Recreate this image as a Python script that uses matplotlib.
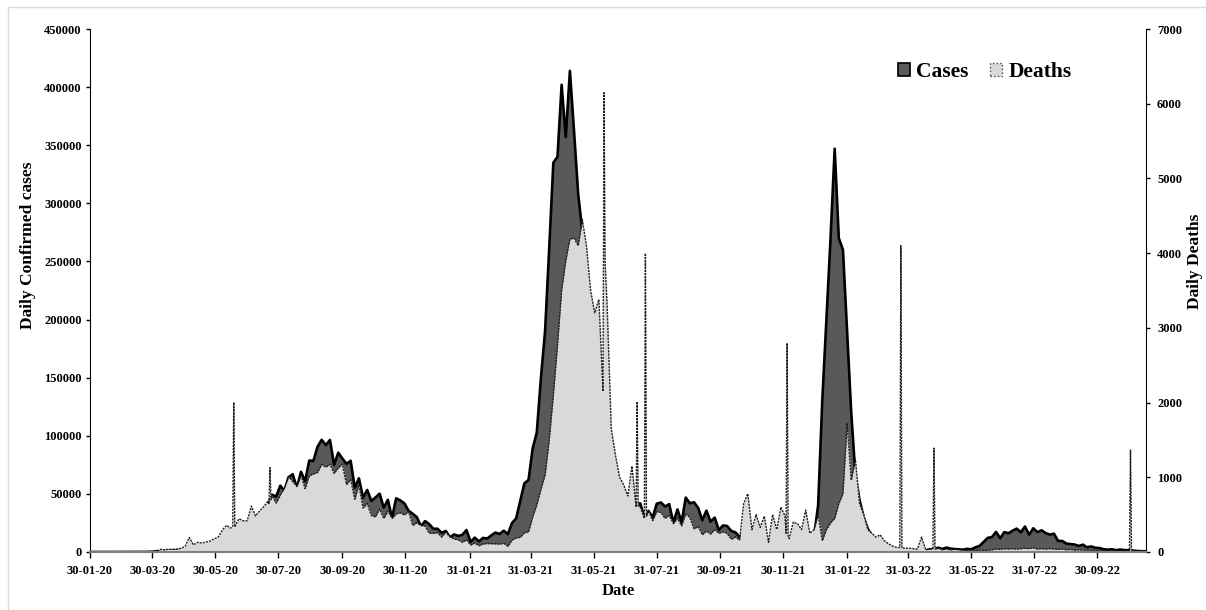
import matplotlib
matplotlib.use('Agg')
import matplotlib.pyplot as plt
import matplotlib.patches as mpatches
from matplotlib.ticker import StrMethodFormatter
import pandas as pd

# valeurs, un point tous les 4 jours a partir du 30-01-20
start = '2020-01-30'
cases = [0, 0, 0, 0, 0, 0, 0, 0,
         1, 3, 15, 20, 25, 90, 80, 230,
         600, 570, 850, 1000, 1300, 1600, 1500, 2300,
         3600, 3300, 3700, 5000, 5600, 6500, 7900, 8200,
         9900, 9900, 11500, 13600, 14800, 18500, 18600, 22800,
         24900, 28600, 35000, 40400, 49300, 47700, 57100, 52500,
         64400, 66900, 55000, 69000, 60900, 78700, 78400, 90600,
         96500, 92000, 96400, 75000, 85400, 80500, 75800, 78500,
         55300, 63400, 46800, 53400, 43900, 46900, 50200, 38100,
         44900, 29200, 46200, 44400, 41800, 35500, 32900, 30000,
         22000, 26600, 23900, 20000, 20000, 16500, 18100, 12600,
         15100, 13800, 14800, 18900, 8600, 12400, 9100, 12100,
         11600, 14300, 16700, 15500, 18300, 15400, 24900, 28900,
         43800, 59100, 62000, 89100, 103000, 150000, 190000, 261500,
         335000, 340000, 402000, 357000, 414000, 362000, 308000, 276000,
         222300, 186400, 127500, 120500, 94000, 80800, 62500, 53300,
         51700, 37600, 44100, 43700, 41500, 41800, 30100, 35300,
         29700, 41600, 42600, 39100, 41200, 25200, 36600, 25500,
         46800, 41900, 42800, 38000, 27300, 35600, 26100, 29600,
         18900, 22800, 22400, 18100, 16900, 13100, 16300, 16200,
         12800, 12900, 11500, 12500, 8900, 10300, 9300, 8800,
         9800, 8300, 8500, 5800, 7100, 6300, 6900, 13100,
         40000, 130000, 200000, 270000, 347000, 270000, 260000, 190000,
         120000, 67000, 45000, 30000, 20000, 14100, 6900, 6400,
         3990, 3600, 2900, 1700, 1900, 1300, 1100, 900,
         1100, 1100, 1150, 2400, 2500, 3700, 2600, 3800,
         2900, 2500, 2300, 2000, 2700, 2300, 4000, 5200,
         8600, 12200, 12800, 17300, 11800, 17100, 16100, 18300,
         20100, 16900, 21900, 14800, 20400, 17100, 18700, 16300,
         14900, 15800, 9500, 9500, 7200, 6800, 6400, 5200,
         6300, 4000, 4800, 3600, 3400, 2400, 2000, 2400,
         1500, 2100, 1600, 1600, 1200, 900, 700, 550]

deaths = [0, 0, 0, 0, 0, 0, 0, 0,
          0, 0, 0, 1, 1, 3, 5, 7,
          12, 35, 30, 38, 36, 40, 50, 77,
          195, 95, 130, 120, 132, 146, 175, 200,
          294, 357, 320, 336, 445, 418, 418, 613,
          482, 550, 606, 681, 757, 654, 764, 857,
          1007, 942, 876, 1023, 848, 1021, 1045, 1065,
          1172, 1136, 1174, 1053, 1124, 1179, 903, 971,
          706, 895, 587, 650, 488, 470, 577, 448,
          547, 449, 511, 524, 496, 540, 355, 391,
          354, 347, 251, 251, 257, 201, 264, 202,
          175, 163, 131, 163, 94, 120, 84, 108,
          113, 112, 110, 106, 117, 77, 158, 188,
          197, 257, 271, 469, 630, 840, 1030, 1500,
          2100, 2770, 3500, 3900, 4190, 4200, 4100, 4450,
          4100, 3500, 3200, 3380, 2150, 3300, 1650, 1300,
          1000, 900, 750, 1150, 600, 600, 450, 550,
          420, 540, 530, 450, 490, 380, 450, 350,
          510, 460, 310, 340, 230, 280, 240, 300,
          250, 270, 250, 170, 200, 160, 650, 780,
          300, 500, 330, 480, 130, 500, 300, 600,
          480, 180, 400, 380, 300, 560, 250, 300,
          500, 150, 300, 390, 450, 650, 780, 1720,
          960, 1240, 650, 500, 300, 250, 200, 230,
          150, 110, 80, 60, 60, 50, 50, 45,
          40, 200, 30, 40, 50, 50, 30, 40,
          30, 35, 30, 25, 20, 25, 20, 25,
          20, 25, 30, 40, 35, 45, 40, 45,
          40, 45, 50, 45, 55, 40, 45, 40,
          45, 40, 35, 40, 30, 35, 25, 30,
          25, 25, 20, 20, 15, 15, 10, 15,
          10, 15, 10, 10, 10, 10, 8, 8]

# pics journaliers des deces (avec les jours voisins)
spike_dates = ['2020-06-16', '2020-06-17', '2020-06-18',
               '2020-07-21', '2020-07-22', '2020-07-23',
               '2021-06-10', '2021-06-11',
               '2021-07-12', '2021-07-13',
               '2021-07-20', '2021-07-21',
               '2021-12-03', '2021-12-04', '2021-12-05',
               '2022-03-23', '2022-03-24', '2022-03-25',
               '2022-04-24', '2022-04-25', '2022-04-26',
               '2022-10-31', '2022-11-01', '2022-11-02']
spike_deaths = [340, 2003, 336,
                640, 1129, 700,
                6148, 3900,
                2012, 620,
                3998, 480,
                250, 2796, 200,
                60, 4100, 55,
                45, 1390, 40,
                10, 1365, 10]

tick_labels = ['30-01-20', '30-03-20', '30-05-20', '30-07-20', '30-09-20', '30-11-20',
               '31-01-21', '31-03-21', '31-05-21', '31-07-21', '30-09-21', '30-11-21',
               '31-01-22', '31-03-22', '31-05-22', '31-07-22', '30-09-22']
legend_labels = ['Cases', 'Deaths']

plt.rcParams['font.family'] = 'Liberation Serif'
plt.rcParams['font.weight'] = 'bold'

dates = pd.date_range(start, periods=len(cases), freq='4D')
death_series = pd.Series(spike_deaths, index=pd.to_datetime(spike_dates)).combine_first(
    pd.Series(deaths, index=dates)).sort_index()
tick_dates = pd.to_datetime(tick_labels, format='%d-%m-%y')

fig = plt.figure(figsize=(12.06, 6.10), dpi=100)
ax = fig.add_axes([90 / 1206, 58 / 610, 1056 / 1206, 523 / 610])
ax2 = ax.twinx()

# cas (axe gauche)
ax.fill_between(dates, cases, color='#595959', lw=0)
ax.plot(dates, cases, color='black', lw=1.9)
# deces (axe droit), par dessus
ax2.fill_between(death_series.index, death_series.values, color='#d9d9d9', lw=0)
ax2.plot(death_series.index, death_series.values, color='#1e1e1e', lw=1.0, ls=(0, (1.5, 0.8)))

ax.set_xlim(pd.Timestamp('2020-01-30'), pd.Timestamp('2022-11-16'))
ax.set_ylim(0, 450000)
ax2.set_ylim(0, 7000)
ax.set_yticks(range(0, 450001, 50000))
ax2.set_yticks(range(0, 7001, 1000))
ax.yaxis.set_major_formatter(StrMethodFormatter('{x:.0f}'))
ax2.yaxis.set_major_formatter(StrMethodFormatter('{x:.0f}'))
ax.set_xticks(tick_dates)
ax.set_xticklabels(tick_labels)

ax.tick_params(axis='y', direction='out', length=3, width=1, labelsize=9, pad=3)
ax2.tick_params(axis='y', direction='out', length=3, width=1, labelsize=9, pad=5)
ax.tick_params(axis='x', direction='out', length=4, width=1, labelsize=9, pad=5)

for s in ['top', 'right', 'left', 'bottom']:
    ax.spines[s].set_visible(False)
ax2.spines['top'].set_visible(False)
ax2.spines['left'].set_color('black')
ax2.spines['right'].set_color('black')
ax2.spines['bottom'].set_color('#7f7f7f')
ax2.spines['bottom'].set_linewidth(1.5)

ax.set_ylabel('Daily Confirmed cases', fontsize=12.5, fontweight='bold', va='center')
ax.yaxis.set_label_coords(-0.0587, 0.587)
ax2.set_ylabel('Daily Deaths', fontsize=12.5, fontweight='bold', va='center')
ax2.yaxis.set_label_coords(1.0464, 0.555)
ax.set_xlabel('Date', fontsize=12, fontweight='bold', va='center')
ax.xaxis.set_label_coords(0.5, (552 - 591) / 523)

patches = [mpatches.Patch(facecolor='#595959', edgecolor='black', lw=1.2, label=legend_labels[0]),
           mpatches.Patch(facecolor='#d9d9d9', edgecolor='#444444', lw=1, ls=':', label=legend_labels[1])]
ax2.legend(handles=patches, loc='center left', bbox_to_anchor=(0.765, 0.918), ncol=2,
           frameon=False, fontsize=15.5, handlelength=0.55, handleheight=0.55,
           handletextpad=0.3, columnspacing=1.0, borderpad=0, borderaxespad=0)

# cadre gris clair autour de la figure
fig.patches.append(mpatches.Rectangle((8 / 1206, -0.01), 1.01, 1 - 7 / 610 + 0.01,
                                      transform=fig.transFigure, fill=False,
                                      edgecolor='#d9d9d9', lw=1))

fig.savefig('out.png', dpi=100)
